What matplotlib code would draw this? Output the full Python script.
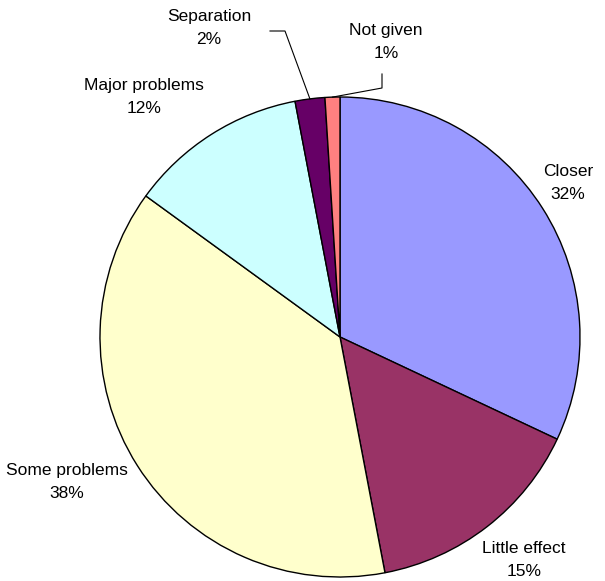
import numpy as np
import matplotlib
matplotlib.use("Agg")
import matplotlib.pyplot as plt

categories = ["Closer", "Little effect", "Some problems", "Major problems", "Separation", "Not given"]
values = [32, 15, 38, 12, 2, 1]
colors = ["#9999FF", "#993366", "#FFFFCC", "#CCFFFF", "#660066", "#FF8080"]

W, H = 605, 581
fig = plt.figure(figsize=(W / 100, H / 100), dpi=100)
ax = fig.add_axes([0, 0, 1, 1])
ax.set_xlim(0, W)
ax.set_ylim(0, H)
ax.axis("off")

cx, cy, R = 340, H - 337, 240
ax.pie(values, colors=colors, startangle=90, counterclock=False,
       center=(cx, cy), radius=R,
       wedgeprops=dict(edgecolor="black", linewidth=1.0))
ax.set_xlim(0, W)
ax.set_ylim(0, H)
ax.set_aspect("equal")

plt.rcParams["font.family"] = ["Liberation Sans", "DejaVu Sans"]
fs = 12.5

# label positions in pixel coordinates (top-left origin)
label_pos = {
    "Closer": (568, 183),
    "Little effect": (524, 560),
    "Some problems": (67, 482),
    "Major problems": (144, 97),
    "Separation": (209, 28),
    "Not given": (386, 42),
}
for cat, v in zip(categories, values):
    x, y = label_pos[cat]
    ax.text(x, H - y, f"{cat}\n{v}%", ha="center", va="center", fontsize=fs,
            linespacing=1.7, family=["Liberation Sans", "DejaVu Sans"])

# leader lines for the small slices
tot = sum(values)
cum = np.cumsum([0] + values)
def edge_point(i):
    frac = (cum[i] + values[i] / 2) / tot
    ang = np.deg2rad(90 - 360 * frac)
    return cx + R * np.cos(ang), cy + R * np.sin(ang)

ex, ey = edge_point(4)
ax.plot([270, 285, ex], [H - 31, H - 31, ey], color="black", lw=0.8)
ex, ey = edge_point(5)
ax.plot([382, 382, ex], [H - 74, H - 88, ey], color="black", lw=0.8)

fig.savefig("out.png", dpi=100)
